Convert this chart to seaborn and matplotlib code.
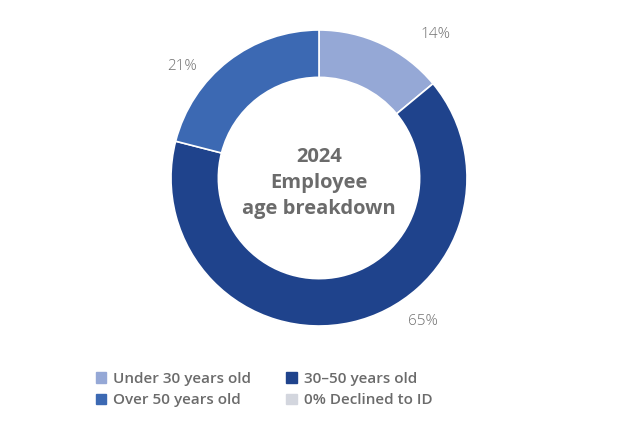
import matplotlib
matplotlib.use("Agg")
import matplotlib.pyplot as plt
import matplotlib.patches as mpatches
import seaborn as sns

categories = ["Under 30 years old", "30-50 years old", "Over 50 years old"]
values = [14, 65, 21]
pct_labels = ["14%", "65%", "21%"]
legend_labels = ["Under 30 years old", "30\u201350 years old", "Over 50 years old", "0% Declined to ID"]
colors = ["#95a8d6", "#1f438c", "#3c69b3"]
declined_color = "#d3d6de"

sns.set_theme(style="white")
plt.rcParams["font.family"] = ["Open Sans", "DejaVu Sans"]

fig = plt.figure(figsize=(6.34, 4.37), dpi=100)
W, H = 634, 437
cx, cy, R = 319, 178, 148
ax = fig.add_axes([(cx - R) / W, (H - cy - R) / H, 2 * R / W, 2 * R / H])

wedges, _ = ax.pie(values, colors=colors, startangle=90, counterclock=False,
                   radius=1.0,
                   wedgeprops=dict(width=0.32, edgecolor="white", linewidth=1.2))
ax.set_aspect("equal")
ax.set_xlim(-1, 1)
ax.set_ylim(-1, 1)
ax.axis("off")

lab_pos = [(0.79, 0.97), (0.70, -0.97), (-0.925, 0.75)]
for (x, y), t in zip(lab_pos, pct_labels):
    ax.text(x, y, t, ha="center", va="center", fontsize=11, color="#707070",
            fontweight="light", clip_on=False)

ax.text(0, -0.035, "2024\nEmployee\nage breakdown", ha="center", va="center",
        fontsize=14.5, fontweight="bold", color="#6b6b6b", linespacing=1.42)

handles = [mpatches.Patch(color=colors[0]), mpatches.Patch(color=colors[2]),
           mpatches.Patch(color=colors[1]), mpatches.Patch(color=declined_color)]
labs = [legend_labels[0], legend_labels[2], legend_labels[1], legend_labels[3]]
leg = fig.legend(handles, labs, ncol=2, loc="upper left",
                 bbox_to_anchor=(82 / W, 1 - 358 / H), frameon=False,
                 handlelength=0.7, handleheight=0.7,
                 handletextpad=0.45, columnspacing=2.3, labelspacing=0.5,
                 prop=dict(size=11, weight="semibold"),
                 labelcolor="#6b6b6b")

fig.savefig("out.png", dpi=100, facecolor="white")
